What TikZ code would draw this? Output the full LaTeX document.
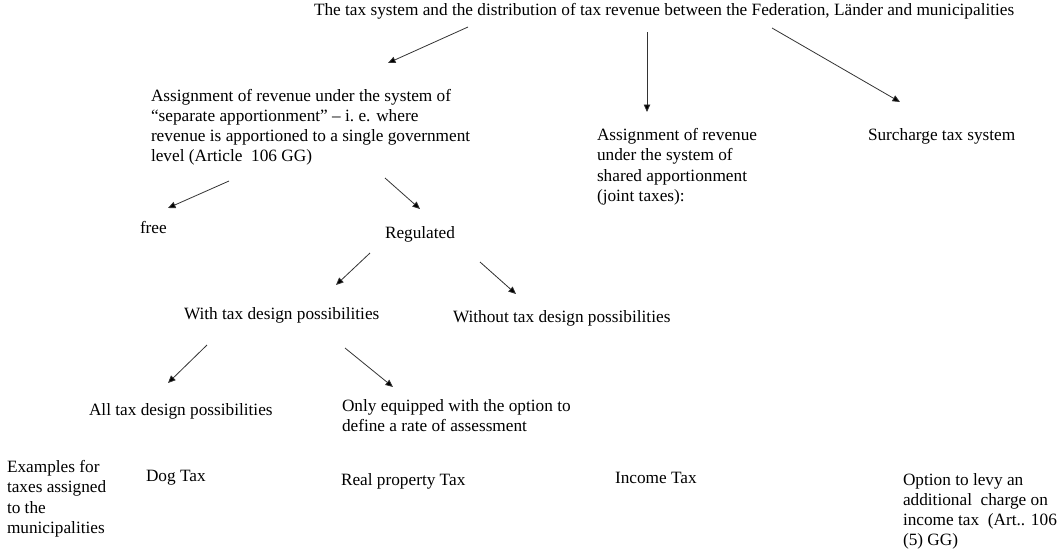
\documentclass[tikz,border=0pt]{standalone}
\usepackage{fontspec}
\setmainfont{Liberation Serif}
\usetikzlibrary{arrows.meta}
\newcommand{\mlines}[1]{\vtop{\baselineskip=20.3pt\halign{##\hfil\cr#1\crcr}}}
\begin{document}
\begin{tikzpicture}[x=1pt,y=-1pt,
  lbl/.style={anchor=base west,inner sep=0pt,outer sep=0pt,font=\fontsize{17.26pt}{20.3pt}\selectfont},
  arr/.style={draw=black!80,line width=0.8pt,-{Triangle[length=7.5pt,width=6.5pt,fill=black]}}]
\useasboundingbox (0,0) rectangle (1057,552);
% texts
\node[lbl] (title) at (314,15) {The tax system and the distribution of tax revenue between the Federation, Länder and municipalities};
\node[lbl] (sep) at (151,101) {\mlines{Assignment of revenue under the system of\cr “separate apportionment” – i.\ e. where\cr revenue is apportioned to a single government\cr level (Article\ \ 106 GG)}};
\node[lbl] (shared) at (597,140.5) {\mlines{Assignment of revenue\cr under the system of\cr shared apportionment\cr (joint taxes):}};
\node[lbl] (surcharge) at (868,140.5) {Surcharge tax system};
\node[lbl] (free) at (140,233) {free};
\node[lbl] (regulated) at (385,238) {Regulated};
\node[lbl] (with) at (184,319) {With tax design possibilities};
\node[lbl] (without) at (453,322) {Without tax design possibilities};
\node[lbl] (all) at (89,415) {All tax design possibilities};
\node[lbl] (only) at (342,411) {\mlines{Only equipped with the option to\cr define a rate of assessment}};
\node[lbl] (examples) at (7,472.5) {\mlines{Examples for\cr taxes assigned\cr to the\cr municipalities}};
\node[lbl] (dog) at (146,481) {Dog Tax};
\node[lbl] (real) at (341,485) {Real property Tax};
\node[lbl] (income) at (615,483) {Income Tax};
\node[lbl] (option) at (903,485) {\mlines{Option to levy an\cr additional\ \ charge on\cr income tax\ \ (Art.. 106\cr (5) GG)}};
% connector end points
\coordinate (aS) at (468,27);  \coordinate (aE) at (388,63);
\coordinate (bS) at (647,32);  \coordinate (bE) at (647,112);
\coordinate (cS) at (772,28);  \coordinate (cE) at (900,102);
\coordinate (dS) at (229,181); \coordinate (dE) at (168,208);
\coordinate (eS) at (385,178); \coordinate (eE) at (420,209);
\coordinate (fS) at (370,253); \coordinate (fE) at (336,285);
\coordinate (gS) at (480,262); \coordinate (gE) at (516,294);
\coordinate (hS) at (207,345); \coordinate (hE) at (168,383);
\coordinate (iS) at (345,348); \coordinate (iE) at (393,387);
% connectors
\draw[arr] (aS) -- (aE);
\draw[arr] (bS) -- (bE);
\draw[arr] (cS) -- (cE);
\draw[arr] (dS) -- (dE);
\draw[arr] (eS) -- (eE);
\draw[arr] (fS) -- (fE);
\draw[arr] (gS) -- (gE);
\draw[arr] (hS) -- (hE);
\draw[arr] (iS) -- (iE);
\end{tikzpicture}
\end{document}
